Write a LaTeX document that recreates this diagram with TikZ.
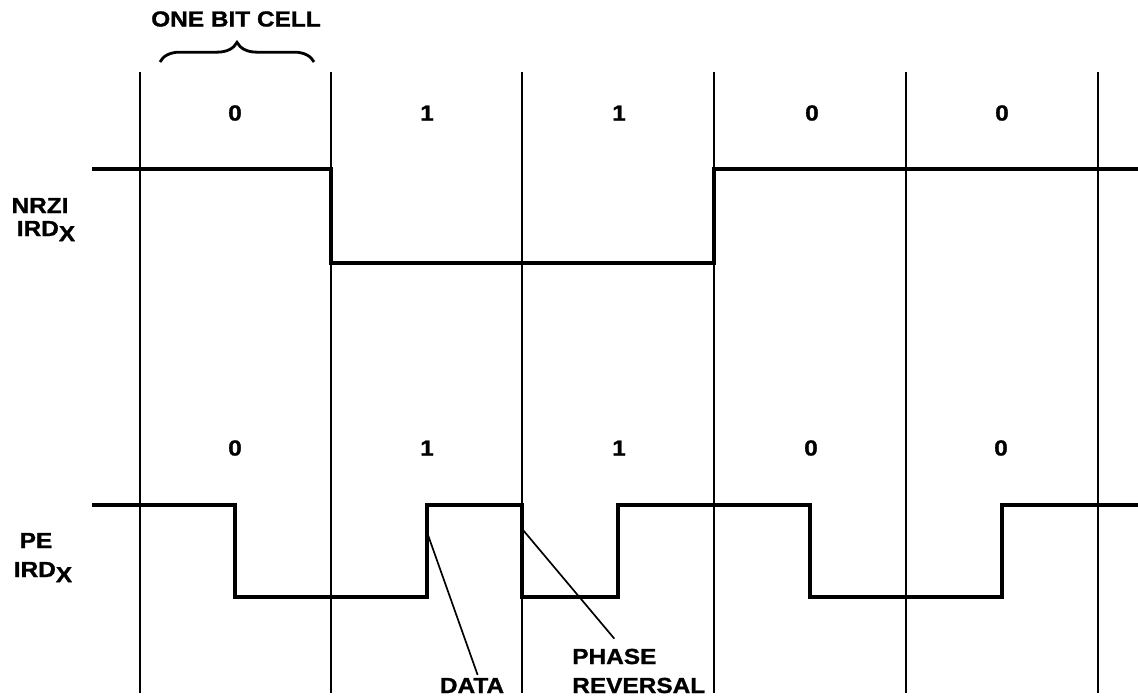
\documentclass[tikz,border=0pt]{standalone}
\usepackage{fontspec}
\setmainfont{Liberation Sans}[FakeStretch=1.12, BoldFeatures={FakeBold=1.2}]
\usetikzlibrary{decorations.pathreplacing}
\tikzstyle{cell} = [line width=1.4pt]
\tikzstyle{wave} = [line width=3.2pt, line join=miter]
\tikzstyle{lead} = [line width=1.2pt]
\tikzstyle{lbl} = [font=\fontsize{15.5}{18}\selectfont\bfseries, inner sep=2pt]

\begin{document}
\begin{tikzpicture}[x=0.025cm, y=-0.025cm]
\useasboundingbox (0,0) rectangle (1138,698);

% bit cell boundaries
\draw[cell] (140,72) -- (140,693);
\draw[cell] (331,72) -- (331,693);
\draw[cell] (522,72) -- (522,693);
\draw[cell] (714,72) -- (714,693);
\draw[cell] (906,72) -- (906,693);
\draw[cell] (1098,72) -- (1098,693);

\node[lbl] (cell) at (236,19) {ONE BIT CELL};
\draw[line width=2pt, decorate, decoration={brace, amplitude=14pt}] (160,62) -- (314,62);

% data bits
\node[lbl] (b1) at (235,113) {0};
\node[lbl] (b2) at (427,113) {1};
\node[lbl] (b3) at (619,113) {1};
\node[lbl] (b4) at (812,113) {0};
\node[lbl] (b5) at (1002,113) {0};

\node[lbl] (p1) at (235,448) {0};
\node[lbl] (p2) at (427,448) {1};
\node[lbl] (p3) at (619,448) {1};
\node[lbl] (p4) at (811,448) {0};
\node[lbl] (p5) at (1001,448) {0};

% NRZI
\node[lbl, anchor=base] (nrzi) at (40,213) {NRZI};
\node[lbl, anchor=base] (nrzird) at (46,236) {IRD\raisebox{-0.45ex}{X}};
\draw[wave] (92,169) -- (331,169) -- (331,263) -- (714,263) -- (714,169) -- (1138,169);

% PE
\node[lbl, anchor=base] (pe) at (36,548) {PE};
\node[lbl, anchor=base] (peird) at (43,577) {IRD\raisebox{-0.45ex}{X}};
\draw[wave] (92,505) -- (235,505) -- (235,597) -- (427,597) -- (427,505)
  -- (522,505) -- (522,597) -- (618,597) -- (618,505) -- (810,505)
  -- (810,597) -- (1002,597) -- (1002,505) -- (1138,505);

\coordinate (dtip) at (428,535);
\coordinate (ptip) at (523,530);
\node[lbl, anchor=base] (data) at (472,693) {DATA};
\node[lbl, anchor=base west, inner sep=0pt] (phase) at (572,664) {PHASE};
\node[lbl, anchor=base west, inner sep=0pt] (reversal) at (572,693) {REVERSAL};
\draw[lead] (dtip) -- ([xshift=4pt]data.north);
\draw[lead] (ptip) -- ([yshift=7pt]phase.north);
\end{tikzpicture}
\end{document}
